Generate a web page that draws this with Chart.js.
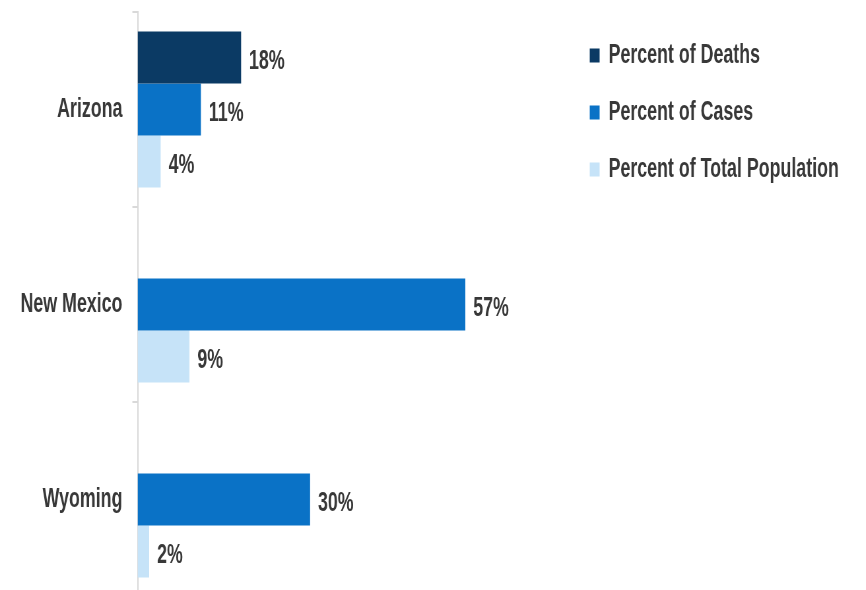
<!DOCTYPE html>
<html>
<head>
<meta charset="utf-8">
<script src="https://cdn.jsdelivr.net/npm/chart.js@4/dist/chart.umd.min.js"></script>
<style>
  html, body { margin: 0; padding: 0; background: #fff; overflow: hidden; }
  /* the source picture is squeezed sideways, so the chart is laid out wider and squeezed back */
  #wrap { width: 1312px; height: 600px; transform: scaleX(0.66); transform-origin: 0 0; }
</style>
</head>
<body>
<div id="wrap"><canvas id="stateChart"></canvas></div>
<script>
const states = ['Arizona', 'New Mexico', 'Wyoming'];
const pctDeaths = [18, null, null];
const pctCases = [11, 57, 30];
const pctPopulation = [4, 9, 2];

const seriesNames = ['Percent of Deaths', 'Percent of Cases', 'Percent of Total Population'];
const seriesColors = ['#0b3a64', '#0a72c6', '#c6e3f8'];

const textColor = '#383838';
const fontFamily = '"Liberation Sans", Arial, sans-serif';

// value labels to the right of each bar
const barLabels = {
    id: 'barLabels',
    afterDatasetsDraw(chart) {
        let ctx = chart.ctx;
        ctx.save();
        ctx.font = 'bold 27px ' + fontFamily;
        ctx.fillStyle = textColor;
        ctx.textAlign = 'left';
        ctx.textBaseline = 'middle';
        chart.data.datasets.forEach(function(ds, i) {
            chart.getDatasetMeta(i).data.forEach(function(bar, j) {
                let v = ds.data[j];
                if (v === null || v === undefined) return;
                ctx.fillText(v + '%', bar.x + 12, bar.y + 4);
            });
        });
        ctx.restore();
    }
};

let ctx = document.getElementById('stateChart').getContext('2d');
let stateChart = new Chart(ctx, {
    type: 'bar',
    data: {
        labels: states,
        datasets: [
            { label: seriesNames[0], data: pctDeaths, backgroundColor: seriesColors[0] },
            { label: seriesNames[1], data: pctCases, backgroundColor: seriesColors[1] },
            { label: seriesNames[2], data: pctPopulation, backgroundColor: seriesColors[2] }
        ]
    },
    options: {
        indexAxis: 'y',
        responsive: true,
        maintainAspectRatio: false,
        animation: false,
        categoryPercentage: 0.8,
        barPercentage: 1.0,
        layout: { padding: { top: 12, bottom: 3, left: 16, right: 31 } },
        scales: {
            x: {
                display: false,
                min: 0,
                max: 75.2
            },
            y: {
                border: { display: true, color: '#d9d9d9', width: 2 },
                grid: { display: true, offset: true, drawOnChartArea: false, drawTicks: true, tickLength: 8, color: '#d9d9d9', lineWidth: 2 },
                ticks: { color: textColor, font: { family: fontFamily, size: 27, weight: 'bold' }, padding: 15 },
                // labels sit mid-category, so the axis needs no extra room above and below
                afterFit: function(scale) {
                    scale.paddingTop = 0;
                    scale.paddingBottom = 0;
                }
            }
        },
        plugins: {
            legend: {
                position: 'right',
                align: 'start',
                maxWidth: 520,
                labels: {
                    color: textColor,
                    font: { family: fontFamily, size: 27, weight: 'bold' },
                    boxWidth: 15,
                    boxHeight: 14,
                    padding: 30
                }
            },
            tooltip: { enabled: false }
        }
    },
    plugins: [barLabels]
});
</script>
</body>
</html>
